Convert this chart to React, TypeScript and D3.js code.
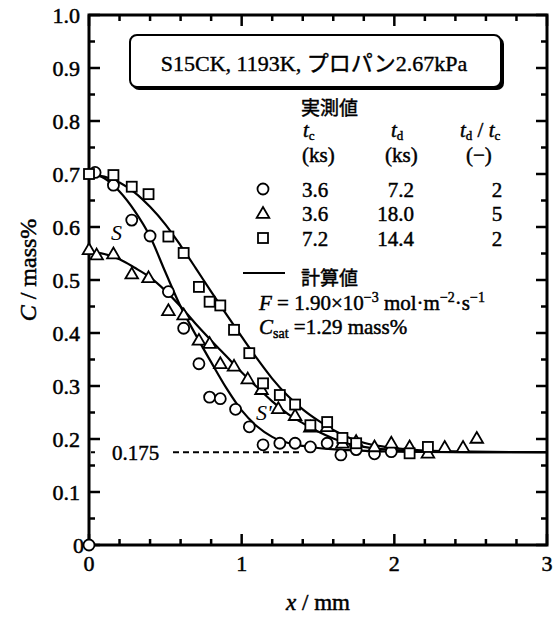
import React from "react";
import * as d3 from "d3";

type P = [number, number];

// measured (実測値)
const circlePts: P[] = [
  [0.04, 0.703], [0.16, 0.679], [0.28, 0.613], [0.40, 0.583], [0.52, 0.478],
  [0.62, 0.409], [0.72, 0.342], [0.79, 0.279], [0.86, 0.276], [0.96, 0.256],
  [1.05, 0.223], [1.14, 0.189], [1.25, 0.192], [1.35, 0.192], [1.45, 0.185],
  [1.56, 0.192], [1.65, 0.170], [1.75, 0.180], [1.87, 0.172], [1.98, 0.176],
];
const trianglePts: P[] = [
  [0.0, 0.557], [0.05, 0.547], [0.16, 0.549], [0.28, 0.511], [0.39, 0.504],
  [0.52, 0.442], [0.62, 0.434], [0.72, 0.386], [0.79, 0.380], [0.86, 0.342],
  [0.95, 0.337], [1.04, 0.313], [1.13, 0.293], [1.24, 0.257], [1.35, 0.244],
  [1.45, 0.222], [1.56, 0.223], [1.66, 0.192], [1.75, 0.195], [1.87, 0.185],
  [1.98, 0.192], [2.10, 0.185], [2.22, 0.173], [2.33, 0.184], [2.45, 0.184],
  [2.54, 0.201],
];
const squarePts: P[] = [
  [0.0, 0.700], [0.16, 0.698], [0.28, 0.676], [0.39, 0.662], [0.52, 0.582],
  [0.62, 0.551], [0.72, 0.487], [0.79, 0.459], [0.86, 0.452], [0.95, 0.406],
  [1.05, 0.362], [1.14, 0.305], [1.25, 0.283], [1.35, 0.265], [1.45, 0.226],
  [1.56, 0.232], [1.66, 0.202], [1.75, 0.192], [2.10, 0.173], [2.22, 0.185],
];
const originPt: P[] = [[0, 0]];

// calculated (計算値)
const calcCircle: P[] = [
  [0, 0.700], [0.1, 0.692], [0.2, 0.667], [0.3, 0.630], [0.4, 0.582], [0.5, 0.515],
  [0.6, 0.450], [0.7, 0.396], [0.8, 0.345], [0.9, 0.296], [1.0, 0.254], [1.1, 0.224],
  [1.2, 0.204], [1.3, 0.193], [1.4, 0.187], [1.5, 0.183], [1.7, 0.179], [2.0, 0.176],
  [2.5, 0.175], [3.0, 0.175],
];
const calcTriangle: P[] = [
  [0, 0.553], [0.1, 0.549], [0.2, 0.539], [0.3, 0.523], [0.4, 0.505], [0.5, 0.480],
  [0.6, 0.450], [0.7, 0.417], [0.8, 0.386], [0.9, 0.356], [1.0, 0.326], [1.1, 0.298],
  [1.2, 0.271], [1.3, 0.248], [1.4, 0.230], [1.5, 0.214], [1.6, 0.201], [1.7, 0.191],
  [1.8, 0.185], [2.0, 0.179], [2.5, 0.175], [3.0, 0.175],
];
const calcSquare: P[] = [
  [0, 0.700], [0.1, 0.695], [0.2, 0.684], [0.3, 0.665], [0.4, 0.638], [0.5, 0.605],
  [0.6, 0.565], [0.7, 0.522], [0.8, 0.478], [0.9, 0.435], [1.0, 0.393], [1.1, 0.352],
  [1.2, 0.314], [1.3, 0.282], [1.4, 0.256], [1.5, 0.235], [1.6, 0.217], [1.7, 0.203],
  [1.8, 0.193], [2.0, 0.183], [2.2, 0.178], [2.5, 0.176], [3.0, 0.175],
];

const baseLevel = 0.175;
const xMajorTicks = [0, 1, 2, 3];
const xMinorTicks = d3.range(0, 3.001, 0.2);
const yMajorTicks = d3.range(0, 1.001, 0.1);
const yMinorTicks = d3.range(0, 1.001, 0.05);
const yTickLabels = ["0", "0.1", "0.2", "0.3", "0.4", "0.5", "0.6", "0.7", "0.8", "0.9", "1.0"];
const xTickLabels = ["0", "1", "2", "3"];

const colTc = ["3.6", "3.6", "7.2"];
const colTd = ["7.2", "18.0", "14.4"];
const colRatio = ["2", "5", "2"];
const markerKinds = ["circle", "triangle", "square"];

const SERIF = "'Liberation Serif', 'Times New Roman', serif";
const MIX = "'Liberation Serif', 'Noto Sans CJK JP', serif";

function Marker({ kind, cx, cy }: { kind: string; cx: number; cy: number }) {
  const sw = 1.8;
  if (kind === "circle")
    return <circle cx={cx} cy={cy} r={5.5} fill="#fff" stroke="#000" strokeWidth={sw} />;
  if (kind === "triangle")
    return (
      <path
        d={`M${cx},${cy - 6.5}L${cx + 6.3},${cy + 4.3}L${cx - 6.3},${cy + 4.3}Z`}
        fill="#fff"
        stroke="#000"
        strokeWidth={sw}
        strokeLinejoin="miter"
      />
    );
  return <rect x={cx - 5} y={cy - 5} width={10} height={10} fill="#fff" stroke="#000" strokeWidth={sw} />;
}

export default function App() {
  const W = 558, H = 620;
  const x = d3.scaleLinear().domain([0, 3]).range([89, 547]);
  const y = d3.scaleLinear().domain([0, 1]).range([545, 15]);
  const line = d3
    .line<P>()
    .x((d) => x(d[0]))
    .y((d) => y(d[1]))
    .curve(d3.curveMonotoneX);

  const x0 = x(0), x1 = x(3), yb = y(0), yt = y(1);
  const fs = 21;

  return (
    <svg
      width={W}
      height={H}
      style={{ position: "absolute", left: 0, top: 0, background: "#fff" }}
      fontFamily={SERIF}
    >
      <rect width={W} height={H} fill="#fff" />

      {/* curves */}
      {[calcCircle, calcTriangle, calcSquare].map((c, i) => (
        <path key={i} d={line(c) || ""} fill="none" stroke="#000" strokeWidth={2.2} />
      ))}

      {/* dashed 0.175 line */}
      <line x1={x0 + 2} x2={x0 + 6} y1={y(baseLevel)} y2={y(baseLevel)} stroke="#000" strokeWidth={2} />
      <line
        x1={173}
        x2={x(1.38)}
        y1={y(baseLevel)}
        y2={y(baseLevel)}
        stroke="#000"
        strokeWidth={2}
        strokeDasharray="6,4"
      />

      <g stroke="#000" strokeWidth={0.45}>
        <text x={112} y={y(baseLevel) + 8} fontSize={21}>0.175</text>
      </g>

      {/* frame */}
      <rect x={x0} y={yt} width={x1 - x0} height={yb - yt} fill="none" stroke="#000" strokeWidth={3} />

      {/* ticks */}
      {yMinorTicks.map((v, i) => {
        const major = i % 2 === 0;
        const L = major ? 11 : 6;
        return (
          <g key={"yt" + i}>
            <line x1={x0} x2={x0 + L} y1={y(v)} y2={y(v)} stroke="#000" strokeWidth={2.5} />
            <line x1={x1} x2={x1 - L} y1={y(v)} y2={y(v)} stroke="#000" strokeWidth={2.5} />
          </g>
        );
      })}
      {xMinorTicks.map((v, i) => {
        const major = xMajorTicks.some((m) => Math.abs(m - v) < 1e-6);
        const L = major ? 11 : 6;
        return (
          <g key={"xt" + i}>
            <line x1={x(v)} x2={x(v)} y1={yb} y2={yb - L} stroke="#000" strokeWidth={2.5} />
            <line x1={x(v)} x2={x(v)} y1={yt} y2={yt + L} stroke="#000" strokeWidth={2.5} />
          </g>
        );
      })}

      <g stroke="#000" strokeWidth={0.5}>
        {/* tick labels */}
        {yMajorTicks.map((v, i) => (
          <text key={"yl" + i} x={i === 0 ? 84 : 80} y={y(v) + 7.5} fontSize={22} textAnchor="end">
            {yTickLabels[i]}
          </text>
        ))}
        {xMajorTicks.map((v, i) => (
          <text key={"xl" + i} x={x(v)} y={571} fontSize={22} textAnchor="middle">
            {xTickLabels[i]}
          </text>
        ))}

        {/* axis titles */}
        <text x={318} y={610} fontSize={23} textAnchor="middle">
          <tspan fontStyle="italic">x</tspan> / mm
        </text>
        <text transform="translate(36,270) rotate(-90)" fontSize={24} textAnchor="middle">
          <tspan fontStyle="italic">C</tspan> / mass%
        </text>
      </g>

      {/* data markers */}
      {circlePts.map((d, i) => <Marker key={"c" + i} kind="circle" cx={x(d[0])} cy={y(d[1])} />)}
      {trianglePts.map((d, i) => <Marker key={"t" + i} kind="triangle" cx={x(d[0])} cy={y(d[1])} />)}
      {squarePts.map((d, i) => <Marker key={"s" + i} kind="square" cx={x(d[0])} cy={y(d[1])} />)}
      {originPt.map((d, i) => <Marker key={"o" + i} kind="circle" cx={x(d[0])} cy={y(d[1])} />)}

      {/* S labels */}
      <text x={111} y={240} fontSize={22} fontStyle="italic">S</text>
      <text x={256} y={420} fontSize={22} fontStyle="italic">S'</text>

      {/* title box */}
      <rect x={132} y={37} width={372} height={53} rx={7} fill="#000" />
      <rect x={130} y={35} width={371} height={52} rx={7} fill="#fff" stroke="#000" strokeWidth={2} />
      <g stroke="#000" strokeWidth={0.4}>
        <text x={314} y={71} fontSize={22} textAnchor="middle" fontFamily={MIX}>
          S15CK, 1193K, プロパン2.67kPa
        </text>
      </g>

      {/* legend table */}
      <g stroke="#000" strokeWidth={0.45}>
        <text x={301} y={115} fontSize={19} fontFamily={MIX}>実測値</text>
        <text x={303} y={137} fontSize={fs}>
          <tspan fontStyle="italic">t</tspan>
          <tspan fontSize={13} dy={3}>c</tspan>
        </text>
        <text x={391} y={137} fontSize={fs}>
          <tspan fontStyle="italic">t</tspan>
          <tspan fontSize={13} dy={3}>d</tspan>
        </text>
        <text x={460} y={137} fontSize={fs}>
          <tspan fontStyle="italic">t</tspan>
          <tspan fontSize={13} dy={3}>d</tspan>
          <tspan dy={-3}> / </tspan>
          <tspan fontStyle="italic">t</tspan>
          <tspan fontSize={13} dy={3}>c</tspan>
        </text>
        <text x={302} y={162} fontSize={fs}>(ks)</text>
        <text x={385} y={162} fontSize={fs}>(ks)</text>
        <text x={466} y={162} fontSize={fs}>(−)</text>
        {colTc.map((v, i) => {
          const cy = 189 + i * 24.5;
          return (
            <g key={"row" + i}>
              <text x={302} y={cy + 7.5} fontSize={fs}>{v}</text>
              <text x={414} y={cy + 7.5} fontSize={fs} textAnchor="end">{colTd[i]}</text>
              <text x={497} y={cy + 7.5} fontSize={fs} textAnchor="middle">{colRatio[i]}</text>
            </g>
          );
        })}
        <text x={301} y={285} fontSize={19} fontFamily={MIX}>計算値</text>
        <text x={259} y={310} fontSize={fs}>
          <tspan fontStyle="italic">F</tspan>
          <tspan> = 1.90×10</tspan>
          <tspan fontSize={14} dy={-8}>−3</tspan>
          <tspan dy={8}> mol·m</tspan>
          <tspan fontSize={14} dy={-8}>−2</tspan>
          <tspan dy={8}>·s</tspan>
          <tspan fontSize={14} dy={-8}>−1</tspan>
        </text>
        <text x={259} y={334} fontSize={fs}>
          <tspan fontStyle="italic">C</tspan>
          <tspan fontSize={14} dy={4}>sat</tspan>
          <tspan dy={-4}> =1.29 mass%</tspan>
        </text>
      </g>
      {colTc.map((v, i) => (
        <Marker key={"lm" + i} kind={markerKinds[i]} cx={263} cy={189 + i * 24.5} />
      ))}
      <line x1={243} x2={285} y1={273} y2={273} stroke="#000" strokeWidth={2} />
    </svg>
  );
}
